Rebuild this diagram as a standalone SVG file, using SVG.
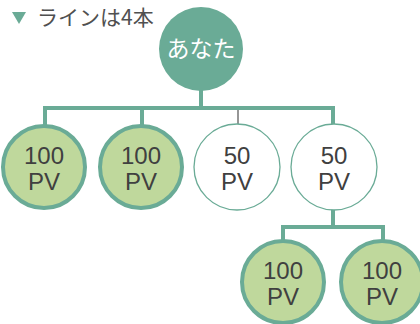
<svg xmlns="http://www.w3.org/2000/svg" width="420" height="324" viewBox="0 0 420 324">
<style>
.ln{stroke:#6aab96;stroke-width:4;fill:none}
.thin{stroke:#505050;stroke-width:1.2;fill:none}
.g{fill:#bfd89c;stroke:#6aab96;stroke-width:4}
.w{fill:#ffffff;stroke:#6aab96;stroke-width:1.3}
.t{font-family:"Liberation Sans","Noto Sans CJK JP",sans-serif;font-size:24px;fill:#404040;text-anchor:middle}
</style>
<rect width="420" height="324" fill="#ffffff"/>
<g id="title">
<polygon points="12,12 26,12 19,24" fill="#6aab96"/>
<text x="37" y="25" font-family="Noto Sans CJK JP,sans-serif" font-size="21" fill="#505050">ラインは4本</text>
</g>
<g id="connectors">
<path class="ln" d="M201,90 V108 M45,108 H333 M45,106 V125 M142,106 V125 M333,106 V125"/>
<path class="thin" d="M238,110 V125"/>
<path class="ln" d="M333,209 V227 M283,227 H383 M283,225 V241 M383,225 V241"/>
</g>
<g id="you">
<circle cx="201" cy="49" r="42" fill="#6aab96"/>
<text x="201" y="57" font-family="Noto Sans CJK JP,sans-serif" font-size="23" fill="#ffffff" text-anchor="middle">あなた</text>
</g>
<g id="n1"><circle class="g" cx="44" cy="167" r="41"/><text class="t" x="44" y="164">100</text><text class="t" x="44" y="190">PV</text></g>
<g id="n2"><circle class="g" cx="141" cy="167" r="41"/><text class="t" x="141" y="164">100</text><text class="t" x="141" y="190">PV</text></g>
<g id="n3"><circle class="w" cx="237" cy="167" r="43"/><text class="t" x="237" y="164">50</text><text class="t" x="237" y="190">PV</text></g>
<g id="n4"><circle class="w" cx="334" cy="167" r="43"/><text class="t" x="334" y="164">50</text><text class="t" x="334" y="190">PV</text></g>
<g id="n5"><circle class="g" cx="283" cy="282" r="41"/><text class="t" x="283" y="279">100</text><text class="t" x="283" y="305">PV</text></g>
<g id="n6"><circle class="g" cx="382" cy="282" r="41"/><text class="t" x="382" y="279">100</text><text class="t" x="382" y="305">PV</text></g>
</svg>
